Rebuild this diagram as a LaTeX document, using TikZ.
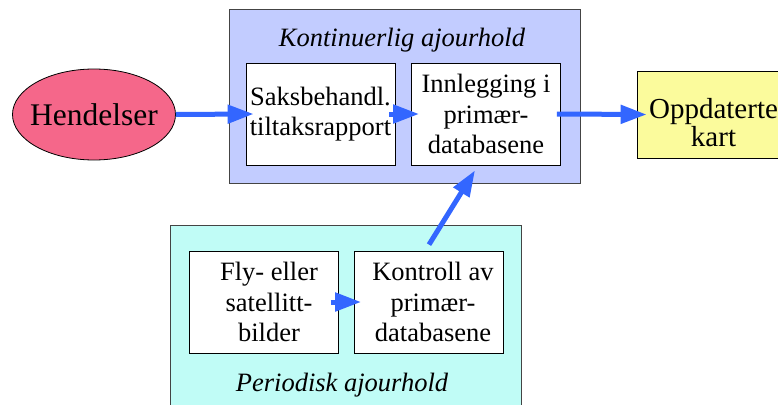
\documentclass[tikz,border=0pt]{standalone}
\usepackage{fontspec}
\setmainfont{Liberation Serif}
\usetikzlibrary{arrows.meta,shapes.geometric}
\definecolor{pinkfill}{HTML}{F5678A}
\definecolor{bluegroup}{HTML}{C2CCFF}
\definecolor{cyangroup}{HTML}{C0FCF6}
\definecolor{yellowfill}{HTML}{FBFB9C}
\definecolor{arrowblue}{HTML}{3366FF}
\definecolor{groupborder}{HTML}{444444}
\tikzset{
  group/.style={draw=groupborder, line width=1pt},
  procbox/.style={draw=black, fill=white, line width=0.8pt, minimum width=149pt, minimum height=102pt, inner sep=0pt, align=center, font=\fontsize{26.5}{30.5}\selectfont},
  flow/.style={draw=arrowblue, line width=5pt, -{Triangle[length=26pt,width=18pt]}},
  titletext/.style={font=\fontsize{26.5}{30}\selectfont\itshape, anchor=base},
}
\begin{document}
\begin{tikzpicture}[x=1pt,y=-1pt]
\useasboundingbox (0,0) rectangle (778,404);
\clip (0,0) rectangle (778,404);
% groups
\draw[group, fill=bluegroup] (229,10) rectangle (580,183);
\draw[group, fill=cyangroup] (170,225) rectangle (521,420);
\node[titletext] (ktitle) at (402,47) {Kontinuerlig ajourhold};
\node[titletext] (ptitle) at (342,391) {Periodisk ajourhold};
% nodes
\node[ellipse, draw=black, line width=0.8pt, fill=pinkfill, minimum width=163pt, minimum height=91pt, inner xsep=-12pt, inner ysep=-8pt, font=\fontsize{31.5}{34}\selectfont] (hend) at (94,114.5) {Hendelser};
\node[procbox] (saks) at (320.5,114) {Saksbehandl.\\tiltaksrapport};
\node[procbox] (inn) at (486,114) {Innlegging i\\primær-\\databasene};
\node[draw=black, line width=0.8pt, fill=yellowfill, minimum width=152pt, minimum height=87pt, inner sep=0pt] (opp) at (713,114.5) {};
\node[align=center, inner sep=0pt, font=\fontsize{29}{26}\selectfont, anchor=base] (opptext) at (713.5,146) {Oppdaterte\\kart};
\node[procbox] (fly) at (264,302) {\hspace*{10pt}Fly- eller\\\hspace*{10pt}satellitt-\\\hspace*{10pt}bilder};
\node[procbox] (kon) at (429,302) {\hspace*{8pt}Kontroll av\\\hspace*{8pt}primær-\\\hspace*{8pt}databasene};
% connectors
\draw[flow] (hend.east) -- ([xshift=8pt]saks.west);
\draw[flow] ([xshift=-6pt]saks.east) -- ([xshift=8pt]inn.west);
\draw[flow] ([xshift=-4pt]inn.east) -- ([xshift=10pt]opp.west);
\draw[flow] ([xshift=-8pt]fly.east) -- ([xshift=7pt]kon.west);
\draw[flow] ([yshift=6pt]kon.north) -- ([xshift=-11pt,yshift=-5pt]inn.south);
\end{tikzpicture}
\end{document}
